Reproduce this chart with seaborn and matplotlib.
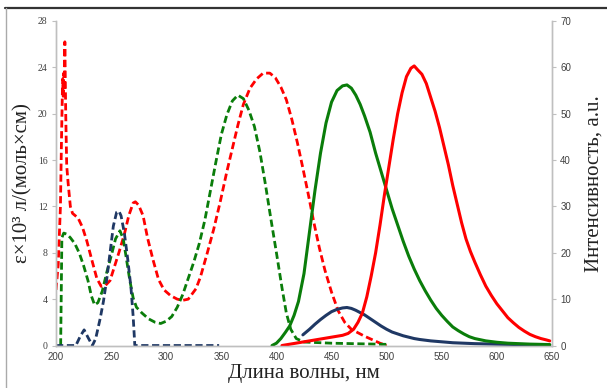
import matplotlib
matplotlib.use("Agg")
import matplotlib.pyplot as plt
from matplotlib.lines import Line2D
import seaborn as sns

# Спектры поглощения (левая ось), эпсилон x 10^3
abs_red_x = [200, 202, 204, 205, 206, 206.5, 207, 207.5, 208, 208.8, 209.7, 211, 213, 215, 220, 224, 228,
             233, 237, 241, 245, 249, 253, 257, 262, 266, 270, 272, 275, 279, 283, 288, 293, 298, 304, 310,
             315, 320, 327, 331, 337, 343, 349, 355, 360, 365, 370, 376, 382, 388, 394, 399, 404, 409, 414,
             419, 424, 429, 434, 439, 444, 450, 456, 462, 468, 474, 480, 487, 494, 500]
abs_red_y = [4.8, 7.0, 12.0, 18.0, 23.0, 21.5, 23.5, 22.0, 26.2, 20.0, 15.5, 14.0, 12.0, 11.4, 11.0, 10.2, 9.0,
             7.2, 5.8, 5.1, 5.2, 5.6, 6.8, 8.0, 9.6, 11.2, 12.3, 12.4, 12.1, 11.2, 9.3, 7.4, 5.7, 4.8, 4.3, 4.0,
             3.9, 4.0, 4.9, 5.9, 7.9, 10.0, 12.4, 15.0, 17.0, 19.0, 20.8, 22.2, 23.0, 23.5, 23.5, 23.1, 22.3,
             21.2, 19.5, 17.5, 15.3, 13.0, 10.6, 8.4, 6.5, 4.6, 3.0, 2.0, 1.4, 1.1, 0.8, 0.5, 0.2, 0.0]

abs_green_x = [204.2, 204.8, 205.3, 207, 210, 213, 217, 221, 225, 229, 232, 235, 238, 242, 246, 250, 254,
               258, 261, 264, 267, 270, 273, 278, 284, 290, 295, 300, 305, 310, 315, 320, 325, 330, 335, 340,
               345, 350, 355, 360, 365, 370, 375, 380, 385, 390, 395, 400, 405, 409, 413, 418, 425, 450, 475, 500]
abs_green_y = [0.0, 5.0, 9.3, 9.7, 9.6, 9.3, 8.8, 8.0, 6.9, 5.6, 4.3, 3.5, 3.7, 4.7, 6.3, 7.7, 9.2,
               9.9, 9.2, 7.4, 5.6, 4.1, 3.3, 2.8, 2.3, 2.0, 1.9, 2.1, 2.5, 3.3, 4.4, 5.8, 7.2, 8.8, 10.8, 13.3,
               15.8, 18.2, 19.9, 21.1, 21.6, 21.3, 20.3, 18.9, 16.7, 13.9, 10.9, 8.0, 5.0, 2.8, 1.4, 0.6, 0.3,
               0.2, 0.15, 0.1]

abs_blue_x = [200, 218, 222, 225.5, 229, 233, 236, 240, 243, 246, 249, 252, 255, 257, 259, 262, 265, 268,
              270, 271.5, 348]
abs_blue_y = [0.0, 0.0, 0.8, 1.35, 0.7, 0.0, 0.6, 2.3, 3.8, 5.7, 8.0, 10.3, 11.5, 11.6, 11.2, 9.7, 7.5, 5.0,
              2.5, 0.0, 0.0]

# Спектры люминесценции (правая ось)
em_green_x = [396, 400, 404, 408, 412, 416, 420, 425, 430, 435, 440, 445, 450, 455, 460, 464, 468, 472, 476,
              480, 485, 490, 495, 500, 505, 510, 515, 520, 525, 530, 535, 540, 545, 550, 555, 560, 565, 570,
              575, 580, 590, 600, 610, 620, 630, 640, 648]
em_green_y = [0.0, 0.5, 1.5, 2.8, 4.2, 6.5, 9.5, 15.5, 24.5, 33.5, 41.5, 48.0, 52.5, 55.0, 56.0, 56.2, 55.5,
              54.0, 52.0, 49.5, 46.0, 41.5, 37.5, 33.5, 29.5, 26.0, 22.5, 19.3, 16.5, 14.0, 11.8, 9.8, 8.0,
              6.5, 5.2, 4.0, 3.2, 2.5, 1.9, 1.5, 1.0, 0.7, 0.5, 0.4, 0.3, 0.25, 0.2]

em_red_x = [405, 410, 415, 420, 425, 430, 435, 440, 445, 450, 455, 460, 465, 470, 474, 478, 482, 486, 490,
            494, 498, 502, 506, 510, 514, 518, 522, 525, 528, 532, 536, 540, 544, 548, 552, 556, 560, 564,
            568, 572, 576, 580, 585, 590, 595, 600, 605, 610, 615, 620, 625, 630, 635, 640, 645, 648]
em_red_y = [0.0, 0.2, 0.4, 0.6, 0.8, 1.0, 1.2, 1.4, 1.6, 1.8, 2.0, 2.2, 2.6, 3.5, 5.0, 7.0, 10.5, 15.0, 20.0,
            26.0, 32.5, 38.5, 44.5, 50.0, 54.5, 58.0, 59.8, 60.3, 59.5, 58.5, 56.5, 53.5, 50.5, 47.0, 43.0,
            39.0, 34.5, 30.5, 26.5, 23.0, 20.3, 18.0, 15.3, 12.8, 10.8, 9.0, 7.5, 6.0, 4.9, 3.9, 3.1, 2.4,
            1.9, 1.5, 1.2, 1.0]

em_blue_x = [424, 430, 435, 440, 445, 450, 455, 460, 464, 468, 472, 476, 480, 485, 490, 495, 500, 505, 510,
             515, 520, 525, 530, 540, 550, 560, 570, 580, 600, 620, 648]
em_blue_y = [2.3, 3.5, 4.6, 5.6, 6.5, 7.3, 7.8, 8.1, 8.2, 8.0, 7.6, 7.1, 6.6, 5.8, 5.0, 4.2, 3.5, 2.9, 2.5,
             2.1, 1.8, 1.5, 1.3, 1.0, 0.8, 0.6, 0.5, 0.4, 0.3, 0.2, 0.1]

x_ticks = list(range(200, 651, 50))
left_ticks = list(range(0, 29, 4))
right_ticks = list(range(0, 71, 10))

RED = "#FF0000"
GREEN = "#0A7D0A"
NAVY = "#1F3864"
AXIS_GRAY = "#BFBFBF"
TICK_COLOR = "#404040"

sns.set_style("white")
plt.rcParams["font.family"] = ["Liberation Serif", "DejaVu Serif"]

fig = plt.figure(figsize=(6.07, 3.88), dpi=100)
ax = fig.add_axes([0.0923, 0.1095, 0.817, 0.8365])
ax2 = ax.twinx()

# пунктир - поглощение
for xs, ys, col in [(abs_red_x, abs_red_y, RED), (abs_green_x, abs_green_y, GREEN),
                    (abs_blue_x, abs_blue_y, NAVY)]:
    sns.lineplot(x=xs, y=ys, ax=ax, color=col, linewidth=2.0, sort=False)
    ax.lines[-1].set_dashes((2.6, 1.3))

# сплошные - люминесценция
for xs, ys, col in [(em_blue_x, em_blue_y, NAVY), (em_green_x, em_green_y, GREEN),
                    (em_red_x, em_red_y, RED)]:
    sns.lineplot(x=xs, y=ys, ax=ax2, color=col, linewidth=2.2, sort=False)

ax.set_xlim(200, 650)
ax.set_ylim(0, 28)
ax2.set_ylim(0, 70)
ax.set_xticks(x_ticks)
ax.set_yticks(left_ticks)
ax2.set_yticks(right_ticks)

for a in (ax, ax2):
    for side in ("left", "right", "bottom"):
        a.spines[side].set_color(AXIS_GRAY)
        a.spines[side].set_linewidth(1.0)
    a.spines["top"].set_visible(False)

ax.tick_params(axis="both", direction="out", length=3, width=0.8, color=AXIS_GRAY,
               labelsize=7, labelcolor=TICK_COLOR, pad=3)
ax.tick_params(axis="x", length=0, pad=5)
ax2.tick_params(axis="y", direction="out", length=3, width=0.8, color=AXIS_GRAY,
                labelsize=7, labelcolor=TICK_COLOR, pad=3)
for lbl in ax2.get_yticklabels():
    lbl.set_family(["Liberation Sans", "DejaVu Sans"])
for lbl in ax.get_xticklabels():
    lbl.set_family(["Liberation Sans", "DejaVu Sans"])

ax.set_xlabel("Длина волны, нм", fontsize=15, color="#222222", labelpad=1)
ax.set_ylabel("ε×10³ л/(моль×см)", fontsize=15, color="#222222", labelpad=4)
ax2.set_ylabel("Интенсивность, a.u.", fontsize=15, color="#222222", labelpad=10)

# рамка вокруг рисунка
fig.add_artist(Line2D([5 / 607, 1], [1 - 8 / 388, 1 - 8 / 388], color="#333333", linewidth=1.6))
fig.add_artist(Line2D([6 / 607, 6 / 607], [0, 1 - 8 / 388], color="#AAAAAA", linewidth=1.0))

fig.savefig("out.png", dpi=100)
